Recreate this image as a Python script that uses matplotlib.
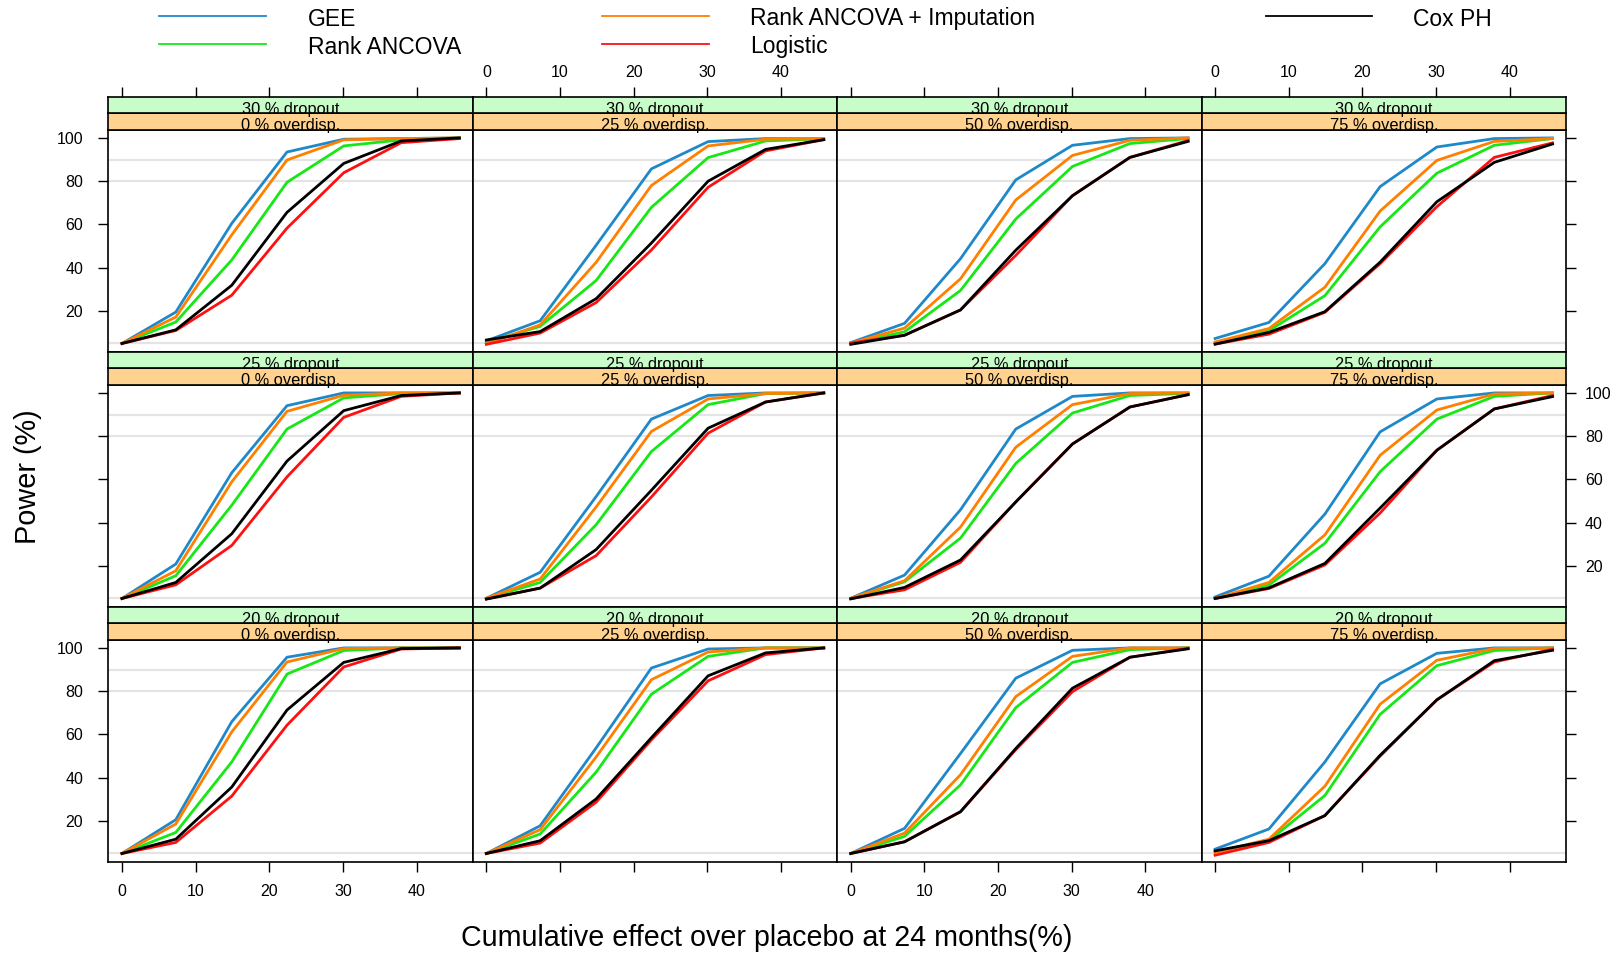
import matplotlib
matplotlib.use("Agg")
import matplotlib.pyplot as plt
from matplotlib.lines import Line2D

plt.rcParams['font.family'] = ['Liberation Sans', 'DejaVu Sans']

# effect sizes (x) and panel conditions
effect = [0, 7.3, 14.9, 22.4, 30.1, 37.9, 45.8]
dropout = ["30 % dropout", "25 % dropout", "20 % dropout"]
overdisp = ["0 % overdisp.", "25 % overdisp.", "50 % overdisp.", "75 % overdisp."]

# power (%) per method: [row][col][point]
gee = [
    [[5, 19.5, 60.5, 93.5, 99.4, 99.7, 100],
     [6.2, 15.5, 50.4, 85.7, 98.3, 99.7, 99.6],
     [5.4, 14.3, 44.2, 80.6, 96.6, 99.7, 100],
     [7.3, 14.7, 41.9, 77.5, 95.8, 99.7, 100]],
    [[5, 20.9, 63.1, 94.1, 100, 100, 100],
     [5.1, 17.1, 52.1, 87.9, 98.8, 100, 100],
     [5.1, 15.8, 46.0, 83.3, 98.4, 100, 100],
     [5.7, 15.3, 44.0, 82.0, 97.2, 100, 100]],
    [[5, 20.6, 65.9, 95.7, 100, 100, 100],
     [5, 17.8, 53.8, 90.7, 99.5, 100, 100],
     [5, 16.6, 51.2, 86.0, 98.9, 100, 100],
     [7.0, 16.3, 47.3, 83.4, 97.5, 100, 100]],
]
rank_ancova = [
    [[5, 14.9, 43.6, 79.5, 96.3, 99.1, 100],
     [5.5, 12.9, 34.1, 67.9, 90.9, 98.6, 99.6],
     [5, 10.4, 29.5, 62.5, 86.8, 97.4, 99.7],
     [5.3, 10.9, 27.1, 58.9, 83.7, 96.6, 99.7]],
    [[5, 15.5, 48.1, 83.3, 97.7, 99.7, 100],
     [5.1, 12.4, 39.1, 72.9, 94.6, 99.7, 100],
     [5, 12.7, 32.9, 67.4, 90.7, 98.8, 99.8],
     [5, 11.2, 30.5, 63.6, 87.9, 98.4, 100]],
    [[5, 14.7, 47.3, 87.9, 98.8, 100, 100],
     [5, 14.0, 42.6, 78.6, 96.1, 100, 100],
     [5, 12.9, 36.7, 72.4, 93.3, 99.2, 100],
     [5.8, 10.9, 31.8, 69.3, 91.8, 98.8, 100]],
]
rank_imput = [
    [[5, 17.2, 55.2, 89.8, 99.1, 99.7, 100],
     [4.8, 13.6, 42.5, 78.0, 96.3, 99.4, 99.6],
     [5.2, 12.1, 34.9, 71.3, 91.9, 98.9, 100],
     [5.7, 11.9, 31.0, 66.2, 89.6, 98.4, 99.7]],
    [[5, 17.8, 58.9, 91.5, 98.9, 100, 100],
     [5.1, 14.0, 47.3, 82.2, 97.2, 99.7, 100],
     [5.1, 13.2, 38.0, 74.9, 94.6, 99.7, 100],
     [5, 12.4, 34.4, 71.2, 92.1, 99.5, 100]],
    [[5, 18.6, 61.2, 93.5, 99.7, 100, 100],
     [5, 16.0, 49.6, 85.3, 98.1, 100, 100],
     [5, 14.4, 41.4, 77.5, 96.1, 100, 100],
     [5.5, 11.6, 36.1, 74.0, 94.3, 99.7, 100]],
]
logistic = [
    [[5, 11.0, 27.3, 58.3, 83.9, 97.8, 99.7],
     [4.6, 9.8, 23.9, 48.2, 77.2, 94.0, 99.2],
     [5.2, 8.8, 20.5, 45.7, 73.3, 91.0, 98.8],
     [4.7, 9.3, 19.4, 41.9, 68.2, 91.0, 97.7]],
    [[5, 11.3, 29.5, 61.2, 88.7, 98.4, 100],
     [4.8, 9.8, 24.8, 51.9, 81.4, 95.8, 100],
     [5, 9.0, 21.7, 49.6, 76.4, 93.5, 99.2],
     [5, 9.6, 20.5, 44.5, 73.5, 92.6, 98.8]],
    [[5, 10.1, 31.5, 64.3, 91.2, 99.5, 100],
     [5, 9.8, 28.7, 57.5, 84.8, 96.9, 100],
     [5, 10.4, 24.3, 53.0, 79.8, 95.7, 99.8],
     [4.2, 10.1, 22.5, 50.0, 76.0, 93.5, 99.4]],
]
cox_ph = [
    [[5, 11.3, 31.9, 65.6, 88.2, 98.6, 100],
     [6.6, 10.5, 25.7, 51.4, 80.0, 94.7, 99.2],
     [4.6, 8.8, 20.5, 48.1, 73.3, 91.0, 98.4],
     [4.7, 10.1, 19.7, 42.6, 70.5, 88.7, 97.2]],
    [[5, 12.4, 34.9, 68.5, 91.8, 98.8, 100],
     [4.7, 9.8, 27.6, 55.0, 83.7, 95.8, 100],
     [4.8, 10.1, 22.8, 49.6, 76.4, 93.5, 99.2],
     [5, 9.9, 21.2, 46.8, 73.5, 92.6, 98.3]],
    [[5, 11.6, 35.7, 71.3, 93.3, 99.7, 100],
     [5, 10.9, 30.2, 58.5, 87.1, 97.7, 100],
     [5, 10.4, 24.3, 53.5, 81.4, 95.7, 99.6],
     [6.2, 10.9, 22.5, 50.4, 76.0, 94.1, 98.9]],
]

methods = [
    ("GEE", gee, "#1f88c9"),
    ("Rank ANCOVA", rank_ancova, "#16e816"),
    ("Rank ANCOVA + Imputation", rank_imput, "#ff8000"),
    ("Logistic", logistic, "#ff1010"),
    ("Cox PH", cox_ph, "#000000"),
]

W, H = 1620, 955
fig = plt.figure(figsize=(W / 100, H / 100), dpi=100)

left_px, right_px = 108.5, 1566
pw = (right_px - left_px) / 4
top_px = 96.7
strip_h = 16.5
panel_h = 222

pad = 0.04 * (effect[-1] - effect[0])
xlim = (effect[0] - pad, effect[-1] + pad)
ylim = (5 - 0.04 * 95, 100 + 0.04 * 95)

tick_kw = dict(direction="out", length=7.2, width=1, labelsize=11.5, colors="black")

for r in range(3):
    y_strip = top_px + r * (2 * strip_h + panel_h)
    y_panel_top = y_strip + 2 * strip_h
    y_panel_bot = y_panel_top + panel_h
    for c in range(4):
        x0 = left_px + c * pw
        ax = fig.add_axes([x0 / W, 1 - y_panel_bot / H, pw / W, panel_h / H])
        for ref in (5, 80, 90):
            ax.axhline(ref, color="#e4e4e4", lw=1.6, zorder=0)
        for name, vals, col in methods:
            ax.plot(effect, vals[r][c], color=col, lw=2.0, solid_joinstyle="miter")
        ax.set_xlim(xlim)
        ax.set_ylim(ylim)
        ax.set_xticks([0, 10, 20, 30, 40])
        ax.set_yticks([20, 40, 60, 80, 100])
        ax.tick_params(axis="both", **tick_kw)
        ax.tick_params(axis="x", top=False, labeltop=False,
                       bottom=(r == 2), labelbottom=(r == 2 and c in (0, 2)), pad=9)
        ax.tick_params(axis="y", left=(c == 0), labelleft=(c == 0 and r != 1), pad=11)
        ax.tick_params(axis="y", right=(c == 3), labelright=(c == 3 and r == 1))
        if c == 3:
            for t in ax.yaxis.get_major_ticks():
                t.set_pad(6.5)
        for sp in ax.spines.values():
            sp.set_linewidth(1.2)

        # strips: dropout (green) over overdispersion (orange)
        s_over = fig.add_axes([x0 / W, 1 - y_panel_top / H, pw / W, strip_h / H])
        s_drop = fig.add_axes([x0 / W, 1 - (y_strip + strip_h) / H, pw / W, strip_h / H])
        for s, txt, bg in ((s_drop, dropout[r], "#c8fcc8"), (s_over, overdisp[c], "#ffd28f")):
            s.set_facecolor(bg)
            s.set_xlim(xlim)
            s.set_yticks([])
            s.set_xticks([])
            for sp in s.spines.values():
                sp.set_linewidth(1.2)
            s.text(0.5, -0.02, txt, transform=s.transAxes, ha="center", va="baseline",
                   fontsize=11.8)
        if r == 0:
            s_drop.set_xticks([0, 10, 20, 30, 40])
            s_drop.tick_params(axis="x", **tick_kw)
            s_drop.tick_params(axis="x", bottom=False, labelbottom=False,
                               top=True, labeltop=(c in (1, 3)), pad=5)

# legend
legend_cols = [(159, 266, 308), (602, 709, 750), (1266, 1372, 1413)]
legend_rows = [19, 47]
for i, (name, vals, col) in enumerate(methods):
    ci, ri = [(0, 0), (0, 1), (1, 0), (1, 1), (2, 0)][i]
    xa, xb, xt = legend_cols[ci]
    yy = legend_rows[ri]
    fig.add_artist(Line2D([xa / W, xb / W], [1 - (yy - 3) / H, 1 - (yy - 3) / H],
                          color=col, lw=1.3, transform=fig.transFigure))
    fig.text(xt / W, 1 - yy / H, name, fontsize=16.5, ha="left", va="center")

fig.text(28 / W, 1 - 477 / H, "Power (%)", rotation=90, fontsize=20.8,
         ha="center", va="center")
fig.text(767 / W, 1 - 938 / H, "Cumulative effect over placebo at 24 months(%)",
         fontsize=20.6, ha="center", va="center")

fig.savefig("out.png", dpi=100)
